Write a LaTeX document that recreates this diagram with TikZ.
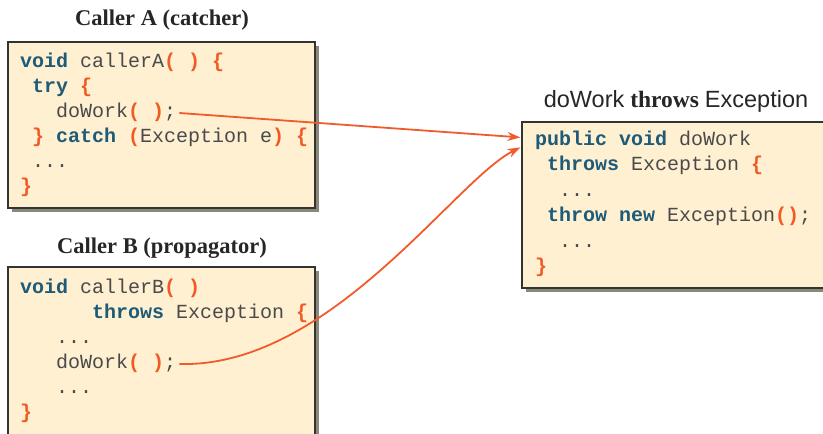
\documentclass[tikz,border=0pt]{standalone}
\usepackage{fontspec}
\setmainfont{Liberation Serif}
\newfontfamily\codefont{Liberation Mono}
\newfontfamily\titlesans{Liberation Sans}
\usetikzlibrary{arrows.meta,shadows,calc}
\definecolor{boxfill}{HTML}{FFF0D2}
\definecolor{boxborder}{HTML}{333333}
\definecolor{kwcol}{HTML}{1D5B78}
\definecolor{brcol}{HTML}{F15A24}
\definecolor{txtcol}{HTML}{4A4A4A}
\definecolor{shadowcol}{HTML}{8A8878}
\definecolor{arrowcol}{HTML}{F15A2B}
\newcommand\kw[1]{\textbf{\color{kwcol}#1}}
\newcommand\br[1]{\textbf{\color{brcol}#1}}
\tikzset{
  codebox/.style={draw=boxborder, fill=boxfill, line width=1.2pt, inner sep=0pt,
    drop shadow={shadow xshift=3.5pt, shadow yshift=-3.5pt, fill=shadowcol, opacity=1}},
  codeline/.style={anchor=base west, inner sep=0pt, text=txtcol,
    font=\codefont\fontsize{20}{20}\selectfont},
  titletext/.style={anchor=base, inner sep=0pt, text=black!85,
    font=\fontsize{22.5}{22.5}\selectfont},
  callarrow/.style={draw=arrowcol, line width=1.8pt,
    -{Stealth[length=13pt,width=9pt]}}
}
\begin{document}
\begin{tikzpicture}[x=1pt,y=-1pt]
\useasboundingbox (0,0) rectangle (823,434);
\clip (0,0) rectangle (823,434);
% boxes
\node[codebox, minimum width=307pt, minimum height=166pt] (boxA) at (161.5,125) {};
\node[codebox, minimum width=307pt, minimum height=190pt] (boxB) at (161.5,362) {};
\node[codebox, minimum width=308pt, minimum height=166pt] (boxC) at (676,205) {};
% titles
\node[titletext] (tA) at (162,25) {\textbf{Caller A (catcher)}};
\node[titletext] (tB) at (162,253) {\textbf{Caller B (propagator)}};
\node[titletext, font=\fontsize{23.5}{23.5}\selectfont] (tC) at (676,107) {{\titlesans doWork} \textbf{throws} {\titlesans Exception}};
% caller A
\node[codeline] (a1) at (20,67)  {\kw{void} callerA\br{( )} \br{\{}};
\node[codeline] (a2) at (32,92)  {\kw{try} \br{\{}};
\node[codeline] (a3) at (56,117) {doWork\br{( )};};
\node[codeline] (a4) at (32,142) {\br{\}} \kw{catch} \br{(}Exception e\br{)} \br{\{}};
\node[codeline] (a5) at (32,167) {...};
\node[codeline] (a6) at (20,192) {\br{\}}};
% caller B
\node[codeline] (b1) at (20,293)  {\kw{void} callerB\br{( )}};
\node[codeline] (b2) at (92,318)  {\kw{throws} Exception \br{\{}};
\node[codeline] (b3) at (56,343)  {...};
\node[codeline] (b4) at (56,368)  {doWork\br{( )};};
\node[codeline] (b5) at (56,393)  {...};
\node[codeline] (b6) at (20,418)  {\br{\}}};
% doWork
\node[codeline] (c1) at (535,145)   {\kw{public} \kw{void} doWork};
\node[codeline] (c2) at (547,170.5) {\kw{throws} Exception \br{\{}};
\node[codeline] (c3) at (559,196)   {...};
\node[codeline] (c4) at (547,221)   {\kw{throw} \kw{new} Exception\br{()};};
\node[codeline] (c5) at (559,247)   {...};
\node[codeline] (c6) at (535,272)   {\br{\}}};
% connectors
\coordinate (inA) at ($(boxC.north west)+(-1,16)$);
\coordinate (inB) at ($(boxC.north west)+(-1,26)$);
\draw[callarrow] ($(a3.base east)+(3,-4)$) -- (inA);
\draw[callarrow] ($(b4.base east)+(3,-4)$) .. controls (330,368) and (455,180) .. (inB);
\end{tikzpicture}
\end{document}
